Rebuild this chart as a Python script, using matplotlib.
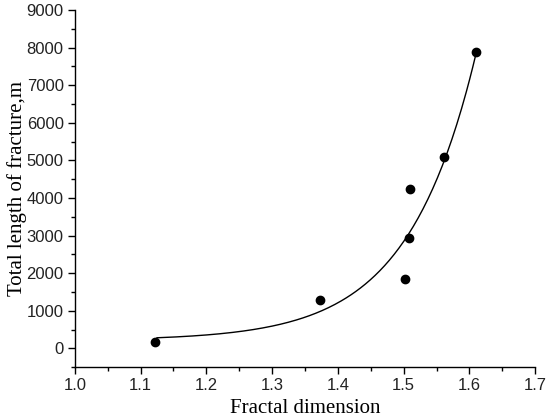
import numpy as np
import matplotlib.pyplot as plt

# measured points
frac_dim = [1.122, 1.373, 1.502, 1.508, 1.510, 1.562, 1.610]
total_len = [160, 1277, 1843, 2944, 4229, 5080, 7872]

# exponential growth fit y = y0 + A*exp((x - x0)/t)
fit_y0 = 210.0
fit_A = 70.0
fit_x0 = 1.125
fit_t = 0.1034
fit_range = (1.125, 1.610)

fig = plt.figure(figsize=(5.5, 4.2), dpi=100)
ax = fig.add_axes([0.136, 0.126, 0.837, 0.850])

xf = np.linspace(fit_range[0], fit_range[1], 200)
yf = fit_y0 + fit_A * np.exp((xf - fit_x0) / fit_t)
ax.plot(xf, yf, color='black', linewidth=1.0)
ax.plot(frac_dim, total_len, 'o', color='black', markersize=6)

ax.set_xlim(1.0, 1.7)
ax.set_ylim(-500, 9000)
ax.set_xticks(np.arange(1.0, 1.71, 0.1))
ax.set_xticks(np.arange(1.0, 1.71, 0.05), minor=True)
ax.set_yticks(np.arange(0, 9001, 1000))
ax.set_yticks(np.arange(-500, 9001, 500), minor=True)
ax.xaxis.set_major_formatter(plt.FuncFormatter(lambda v, p: f'{v:.1f}'))

for side in ['top', 'right']:
    ax.spines[side].set_visible(False)
for side in ['left', 'bottom']:
    ax.spines[side].set_linewidth(1.0)

ax.tick_params(direction='out', length=5, width=1, labelsize=12, pad=3,
               labelcolor='#222222')
ax.tick_params(which='minor', direction='out', length=3, width=1)
for lab in ax.get_xticklabels() + ax.get_yticklabels():
    lab.set_fontfamily('Liberation Sans')

ax.set_xlabel('Fractal dimension', fontfamily='Liberation Serif', fontsize=15, labelpad=4)
ax.set_ylabel('Total length of fracture,m', fontfamily='Liberation Serif', fontsize=15, labelpad=0)

fig.savefig('out.png', dpi=100)
